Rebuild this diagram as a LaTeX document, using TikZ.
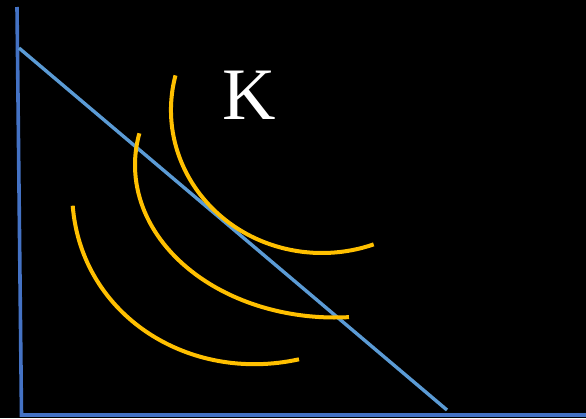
\documentclass[tikz,border=0pt]{standalone}
\usepackage{fontspec}
\setmainfont{Liberation Serif}
\usetikzlibrary{positioning}
\definecolor{axisblue}{HTML}{4472C4}
\definecolor{lineblue}{HTML}{5B9BD5}
\definecolor{curvegold}{HTML}{FFC000}
\begin{document}
\begin{tikzpicture}[
x=1pt,
y=-1pt,
axis/.style={draw=axisblue,line width=3.6pt},
budget/.style={draw=lineblue,line width=3.4pt},
isoq/.style={draw=curvegold,line width=4pt},
lbl/.style={text=white,inner sep=0pt,font=\fontsize{74}{74}\selectfont}
]
\fill[black] (0,0) rectangle (586,418);
\useasboundingbox (0,0) rectangle (586,418);
\coordinate (ytop) at (17,7);
\coordinate (origin) at (21.5,415);
\coordinate (xend) at (586,415);
\coordinate (bstart) at (19,48);
\coordinate (bend) at (447,410);
\coordinate (c1) at (322,110);
\coordinate (c2) at (335,165);
\coordinate (s3) at (72.7,205.7);
\coordinate (e3) at (299,359.3);
\node[lbl] (klabel) at (249,95) {K};

\draw[axis] (ytop) -- (origin) -- (xend);
\draw[budget] (bstart) -- (bend);
% three curves, outer one first
\draw[isoq] ([shift={(194:151 and 143)}]c1) arc[start angle=194,end angle=70,x radius=151,y radius=143];
\draw[isoq] ([shift={(192:200 and 152.5)}]c2) arc[start angle=192,end angle=86,x radius=200,y radius=152.5];
\draw[isoq] (s3) .. controls (81.5,315.7) and (189,383.5) .. (e3);
\end{tikzpicture}
\end{document}
